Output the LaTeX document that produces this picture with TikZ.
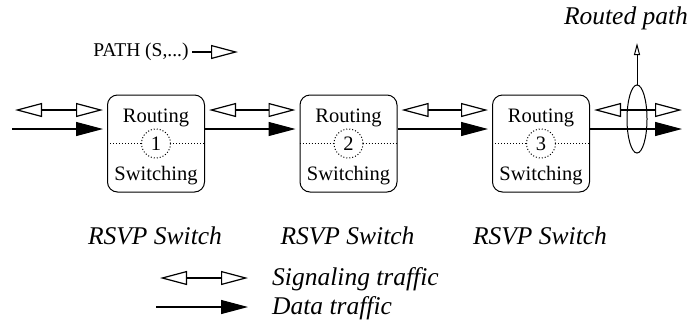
\documentclass[tikz,border=0pt]{standalone}
\usepackage{fontspec}
\setmainfont{Liberation Serif}
\usetikzlibrary{arrows.meta, positioning, shapes.geometric}

\begin{document}
\begin{tikzpicture}[x=1pt, y=-1pt,
  swbox/.style={draw, rounded corners=10pt, minimum width=97pt, minimum height=97pt, line width=1pt},
  sig/.style={line width=1.2pt, {Triangle[open, length=27pt, width=14pt]}-{Triangle[open, length=27pt, width=14pt]}},
  sigone/.style={line width=1.2pt, -{Triangle[open, length=27pt, width=14pt]}},
  dat/.style={line width=1.2pt, -{Triangle[length=27pt, width=14pt]}},
  boxtxt/.style={font=\fontsize{20.5}{24}\selectfont},
  lbl/.style={font=\fontsize{25.5}{29}\selectfont\itshape},
  numcirc/.style={circle, draw, dotted, line width=1pt, fill=white, minimum size=29pt, inner sep=0pt, font=\fontsize{20.5}{24}\selectfont}]
\useasboundingbox (0,0) rectangle (687,322);
\coordinate (sigy) at (0,110);
\coordinate (daty) at (0,129);
% the three switches
\foreach \i/\cx in {1/156, 2/348.5, 3/541} {
  \node[swbox] (sw\i) at (\cx,143.5) {};
  \node[boxtxt] (rt\i) at (\cx,118) {Routing};
  \node[boxtxt] (st\i) at (\cx,176) {Switching};
  \draw[dotted, line width=1pt] (sw\i.west) -- (sw\i.east);
  \node[numcirc] (n\i) at (sw\i.center) {\i};
  \node[lbl] (rsvp\i) at (\cx-1,236) {RSVP Switch};
}
% incoming traffic
\coordinate (sigin) at (15,110);
\coordinate (datin) at (12,129);
\draw[sig, shorten >=4pt] (sigin) -- (sw1.west |- sigy);
\draw[dat, shorten >=4pt] (datin) -- (sw1.west |- daty);
% between switches
\draw[sig, shorten <=4pt, shorten >=4pt] (sw1.east |- sigy) -- (sw2.west |- sigy);
\draw[dat, shorten >=4pt] (sw1.east |- daty) -- (sw2.west |- daty);
\draw[sig, shorten <=4pt, shorten >=4pt] (sw2.east |- sigy) -- (sw3.west |- sigy);
\draw[dat, shorten >=4pt] (sw2.east |- daty) -- (sw3.west |- daty);
% outgoing traffic
\coordinate (sigout) at (682,110);
\coordinate (datout) at (682,129);
\draw[sig, shorten <=4pt] (sw3.east |- sigy) -- (sigout);
\draw[dat] (sw3.east |- daty) -- (datout);
% routed path
\node[ellipse, draw, line width=1pt, minimum width=20pt, minimum height=68pt, inner sep=0pt] (rp) at (637,119) {};
\coordinate (rptop) at (637,43);
\draw[line width=1pt, -{Triangle[open, length=12pt, width=6pt]}] (rp.north) -- (rptop);
\node[lbl] (rplbl) at (626,18) {Routed path};
% path message
\node[font=\fontsize{19.5}{22}\selectfont] (path) at (141,52) {PATH (S,...)};
\coordinate (pathend) at (238,52);
\draw[sigone] (path.east) -- (pathend);
% legend
\coordinate (lgsa) at (160,278);
\coordinate (lgsb) at (248,278);
\coordinate (lgda) at (156,307);
\coordinate (lgdb) at (248,307);
\draw[sig] (lgsa) -- (lgsb);
\draw[dat] (lgda) -- (lgdb);
\node[lbl, anchor=west] (lgsig) at (268.7,279) {Signaling traffic};
\node[lbl, anchor=west] (lgdat) at (268.7,308) {Data traffic};
\end{tikzpicture}
\end{document}
